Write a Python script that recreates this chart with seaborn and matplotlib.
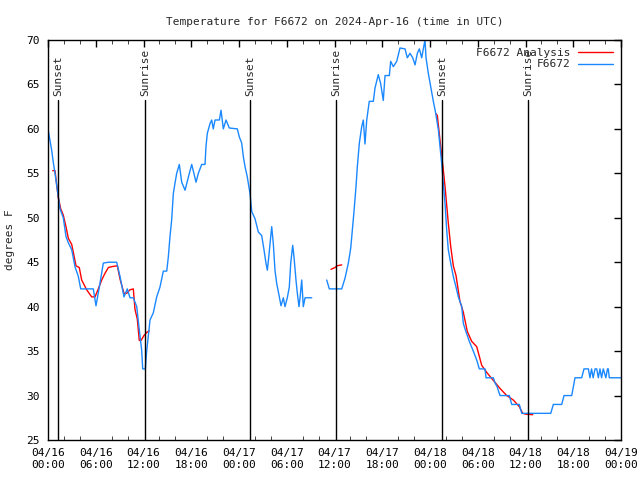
import pandas as pd
import numpy as np
import matplotlib
matplotlib.use('Agg')
import matplotlib.pyplot as plt
import matplotlib.dates as mdates
from matplotlib.lines import Line2D
import seaborn as sns

start = pd.Timestamp('2024-04-16 00:00')

# observed temperature (hours since 04/16 00:00, degrees F), two segments with a gap
obs1_hours = [0.0, 0.46, 0.67, 0.88, 1.29, 1.51, 1.92, 2.26, 2.55, 2.98, 3.39, 3.81, 4.11, 5.69,
              6.03, 6.45, 6.95, 7.58, 8.63, 9.05, 9.55, 9.96, 10.3, 10.72, 11.15, 11.47, 11.77,
              11.9, 12.23, 12.4, 12.82, 13.23, 13.66, 14.07, 14.49, 14.92, 15.12, 15.33, 15.54,
              15.75, 15.96, 16.17, 16.5, 16.8, 17.22, 17.76, 18.06, 18.6, 18.89, 19.31, 19.73,
              19.85, 20.02, 20.36, 20.57, 20.77, 20.99, 21.53, 21.74, 22.03, 22.37, 22.78, 23.79,
              24.04, 24.34, 24.54, 24.76, 25.04, 25.38, 25.6, 26.01, 26.43, 26.85, 27.14, 27.39,
              27.56, 27.73, 27.9, 28.11, 28.31, 28.52, 28.74, 29.07, 29.28, 29.57, 29.78, 30.07,
              30.32, 30.5, 30.75, 30.91, 31.16, 31.33, 31.54, 31.67, 31.88, 32.08, 32.3, 33.14]
obs1_temp = [60, 57.6, 56.2, 55, 52.4, 51, 50, 47.9, 47.2, 46.4, 44.5, 43.4, 42, 42,
             40.1, 42.2, 44.9, 45, 45, 43.4, 41.1, 42, 41, 41, 40, 37.4, 35.1,
             33, 33, 35, 38.5, 39.3, 41.1, 42.2, 44, 44, 45.6, 47.9, 49.75,
             52.75, 53.9, 55, 56, 54, 53.1, 55, 56, 54, 55, 56, 56,
             58, 59.5, 60.6, 61, 60, 61, 61, 62.1, 60, 61, 60.1, 60,
             59.1, 58.4, 56.9, 55.75, 54.6, 52.75, 50.7, 49.9, 48.4, 48, 46.4, 44.9,
             44.1, 45.5, 47.1, 49, 47.1, 44.1, 42.6, 41.1, 40.1, 41, 40, 41,
             42.2, 44.9, 46.9, 45.6, 43, 41.5, 40, 41, 43, 40, 41, 41]

obs2_hours = [35.02, 35.35, 36.91, 37.32, 37.74, 38.04, 38.24, 38.45, 38.7, 38.87, 39.12, 39.42,
              39.62, 39.83, 40.05, 40.37, 40.88, 41.09, 41.5, 41.8, 42.13, 42.35, 42.89, 43.06,
              43.39, 43.82, 44.23, 44.86, 45.15, 45.49, 45.83, 46.12, 46.41, 46.66, 46.96, 47.16,
              47.37, 47.5, 47.79, 48.09, 48.42, 48.72, 49.05, 49.26, 49.47, 49.67, 49.89, 50.1,
              50.3, 50.6, 50.93, 51.27, 51.56, 51.99, 52.19, 52.4, 52.94, 53.44, 53.87, 54.2,
              54.91, 55.04, 55.96, 56.18, 56.43, 56.8, 57.97, 58.27, 59.22, 59.53, 63.17, 63.5,
              64.55, 64.84, 65.81, 66.22, 67.06, 67.35, 67.9, 68.1, 68.3, 68.5, 68.74, 68.95,
              69.15, 69.36, 69.56, 69.77, 70.1, 70.3, 70.4, 70.53, 72.0]
obs2_temp = [43, 42, 42, 43.2, 44.9, 46.6, 48.6, 50.7, 53.5, 55.75, 58.4, 60.25,
             61, 58.3, 61, 63.1, 63.1, 64.6, 66.1, 65.1, 63.2, 66, 66, 67.6,
             67, 67.6, 69.1, 69, 68, 68.5, 68, 67.2, 68.5, 69, 68, 69,
             70, 68, 66.25, 64.75, 63.1, 61.75, 59.9, 58, 56.1, 53.9, 51.6, 48.6,
             46.4, 44.9, 43.4, 42.2, 41.1, 40, 38.1, 37.5, 36.1, 35, 34, 33,
             33, 32, 32, 31.4, 31, 30, 30, 29, 29, 28, 28, 29,
             29, 30, 30, 32, 32, 33, 33, 32, 33, 32, 33, 33,
             32, 33, 32, 33, 32, 33, 33, 32, 32]

# analysis (red) segments
an1_hours = [0.59, 0.88, 1.09, 1.29, 1.6, 1.92, 2.26, 2.55, 2.98, 3.52, 3.93, 4.23, 4.86, 5.49,
             5.91, 6.32, 6.75, 7.16, 7.58, 8.0, 8.71, 9.05, 9.55, 9.89, 10.3, 10.72, 10.93,
             11.22, 11.47, 11.69, 12.06, 12.4, 12.73]
an1_temp = [55.3, 55.3, 53.7, 52.3, 51, 50.3, 49, 47.7, 47, 44.6, 44.4, 43, 41.9, 41.1,
            41.1, 42, 43, 43.75, 44.4, 44.5, 44.6, 43.1, 41.5, 41.5, 41.9, 42, 39.7,
            38.6, 36.2, 36.2, 36.75, 37.1, 37.3]
an2_hours = [35.56, 36.06, 36.31, 36.91]
an2_temp = [44.2, 44.4, 44.6, 44.7]
an3_hours = [48.76, 48.92, 49.26, 49.67, 49.89, 50.3, 50.6, 50.93, 51.27, 51.76, 52.18, 52.69,
             53.24, 53.87, 54.5, 55.13, 55.96, 56.8, 57.64, 58.47, 59.22, 59.65, 60.07, 60.91]
an3_temp = [61.7, 61.5, 58.7, 55.4, 53.5, 49.4, 46.8, 44.6, 43.5, 40.6, 39.4, 37.2,
            36.1, 35.5, 33.4, 32.6, 31.7, 30.8, 30, 29.5, 28.75, 28, 27.9, 27.85]

# sunrise / sunset (hours)
sun_hours = [1.29, 12.23, 25.42, 36.19, 49.55, 60.36]
sun_labels = ['Sunset', 'Sunrise', 'Sunset', 'Sunrise', 'Sunset', 'Sunrise']


def make_df(segments):
    frames = []
    for i, (h, t) in enumerate(segments):
        frames.append(pd.DataFrame({'time': start + pd.to_timedelta(h, unit='h'),
                                    'temp': t, 'seg': i}))
    return pd.concat(frames, ignore_index=True)


obs = make_df([(obs1_hours, obs1_temp), (obs2_hours, obs2_temp)])
ana = make_df([(an1_hours, an1_temp), (an2_hours, an2_temp), (an3_hours, an3_temp)])

sns.set_style('white')
plt.rcParams['font.family'] = ['DejaVu Sans Mono']

fig = plt.figure(figsize=(6.4, 4.8), dpi=100)
ax = fig.add_axes([48 / 640, 1 - 440 / 480, 573 / 640, 400 / 480])

red = '#ff0000'
blue = '#1a88ff'
sns.lineplot(data=ana, x='time', y='temp', units='seg', estimator=None, color=red, lw=1, ax=ax)
sns.lineplot(data=obs, x='time', y='temp', units='seg', estimator=None, color=blue, lw=1, ax=ax)

for h, lab in zip(sun_hours, sun_labels):
    x = start + pd.Timedelta(hours=h)
    ax.axvline(x, ymin=0, ymax=0.85, color='black', lw=1)
    ax.text(x, 0.86, lab, rotation=90, ha='center', va='bottom', fontsize=8,
            transform=ax.get_xaxis_transform())

ax.set_xlim(start, start + pd.Timedelta(hours=72))
ax.set_ylim(25, 70)
ax.set_yticks(np.arange(25, 71, 5))
ax.xaxis.set_major_locator(mdates.HourLocator(byhour=[0, 6, 12, 18]))
ax.xaxis.set_minor_locator(mdates.HourLocator(interval=2))
ax.xaxis.set_major_formatter(mdates.DateFormatter('%m/%d\n%H:%M'))
ax.tick_params(axis='both', which='major', direction='in', length=5, width=1,
               top=True, right=True, labelsize=8, colors='black', pad=6)
ax.tick_params(axis='x', which='minor', direction='in', length=3, top=True, bottom=True)
for s in ax.spines.values():
    s.set_color('black')
    s.set_linewidth(1)

ax.set_xlabel('')
ax.set_ylabel('degrees F', fontsize=8, labelpad=8)
ax.set_title('Temperature for F6672 on 2024-Apr-16 (time in UTC)', fontsize=8, pad=11)

handles = [Line2D([], [], color=red, lw=1), Line2D([], [], color=blue, lw=1)]
ax.legend(handles, ['F6672 Analysis', 'F6672'], loc='upper right', frameon=False,
          markerfirst=False, fontsize=8, handlelength=3.2, borderaxespad=0.3,
          labelspacing=0.15, handletextpad=0.6)

fig.savefig('out.png', dpi=100)
